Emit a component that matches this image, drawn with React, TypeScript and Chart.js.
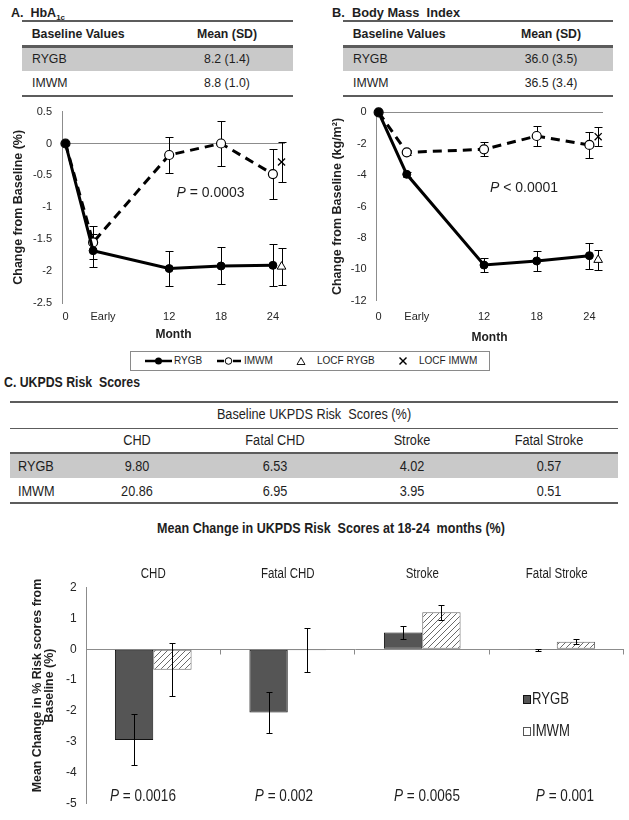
import React, { useEffect, useRef } from 'react';
import { Chart, registerables } from 'chart.js';
Chart.register(...registerables);

const SANS = "'Liberation Sans', Arial, sans-serif";
const NARROW_SX = 0.82; // Arial-Narrow look, simulated by horizontal compression
const INK = '#1e1e1e';
const TICK = '#262626';
const LINE_GRAY = '#5c5c5c';
const ROW_GRAY = '#c9c9c9';

// ---------------- Data ----------------
const groups = ['RYGB', 'IMWM'];
const hbaBaseline = ['8.2 (1.4)', '8.8 (1.0)'];
const bmiBaseline = ['36.0 (3.5)', '36.5 (3.4)'];

const monthValues = [0, 3.2, 12, 18, 24];
const monthTickValues = [0, 4.35, 12, 18, 24];
const monthTickLabels = ['0', 'Early', '12', '18', '24'];
const locfMonth = 25;

const hbaRygb = [0, -1.68, -1.96, -1.92, -1.91];
const hbaRygbErr = [0, 0.26, 0.27, 0.29, 0.33];
const hbaImwm = [0, -1.55, -0.18, 0.0, -0.48];
const hbaImwmErr = [0, 0.26, 0.28, 0.35, 0.39];
const hbaLocfRygb = [-1.93];
const hbaLocfRygbErr = [0.29];
const hbaLocfImwm = [-0.29];
const hbaLocfImwmErr = [0.32];

const bmiRygb = [0, -3.95, -9.73, -9.47, -9.13];
const bmiRygbErr = [0, 0.15, 0.45, 0.65, 0.82];
const bmiImwm = [0, -2.55, -2.36, -1.51, -2.08];
const bmiImwmErr = [0, 0.15, 0.45, 0.65, 0.85];
const bmiLocfRygb = [-9.4];
const bmiLocfRygbErr = [0.66];
const bmiLocfImwm = [-1.55];
const bmiLocfImwmErr = [0.6];

const riskCats = ['CHD', 'Fatal CHD', 'Stroke', 'Fatal Stroke'];
const riskBaselineRygb = ['9.80', '6.53', '4.02', '0.57'];
const riskBaselineImwm = ['20.86', '6.95', '3.95', '0.51'];
const riskRygb = [-2.94, -2.05, 0.55, -0.02];
const riskRygbErr = [0.83, 0.67, 0.22, 0.04];
const riskImwm = [-0.66, -0.03, 1.2, 0.25];
const riskImwmErr = [0.87, 0.71, 0.24, 0.07];
const riskPValues = ['0.0016', '0.002', '0.0065', '0.001'];

// ---------------- Plugins ----------------
function drawErrorBars(chart: any, cap: number) {
  const ctx = chart.ctx;
  chart.data.datasets.forEach((ds: any, di: number) => {
    const errs = ds.errors;
    if (!errs) return;
    const meta = chart.getDatasetMeta(di);
    const yScale = chart.scales[meta.yAxisID];
    meta.data.forEach((el: any, i: number) => {
      const e = errs[i];
      if (!e) return;
      const raw = ds.data[i];
      const v = typeof raw === 'number' ? raw : raw.y;
      const x = Math.round(el.x) + 0.5;
      const y1 = Math.round(yScale.getPixelForValue(v + e)) + 0.5;
      const y2 = Math.round(yScale.getPixelForValue(v - e)) + 0.5;
      ctx.save();
      ctx.strokeStyle = '#000';
      ctx.lineWidth = 1;
      ctx.beginPath();
      ctx.moveTo(x, y1); ctx.lineTo(x, y2);
      ctx.moveTo(x - cap, y1); ctx.lineTo(x + cap, y1);
      ctx.moveTo(x - cap, y2); ctx.lineTo(x + cap, y2);
      ctx.stroke();
      ctx.restore();
    });
  });
}

const errorBarsBefore = {
  id: 'errorBarsBefore',
  beforeDatasetsDraw(chart: any) { drawErrorBars(chart, 4); },
};
const errorBarsAfter = {
  id: 'errorBarsAfter',
  afterDatasetsDraw(chart: any) { drawErrorBars(chart, 3); },
};

const barDecor = {
  id: 'barDecor',
  afterDraw(chart: any) {
    const { ctx, chartArea } = chart;
    const xs = chart.scales.x;
    const ys = chart.scales.y;
    const y0 = Math.round(ys.getPixelForValue(0)) + 0.5;
    const n = riskCats.length;
    const w = (chartArea.right - chartArea.left) / n;
    ctx.save();
    ctx.strokeStyle = '#8a8a8a';
    ctx.lineWidth = 1;
    ctx.beginPath();
    for (let i = 1; i <= n; i++) {
      const px = Math.round(chartArea.left + i * w) - 0.5;
      ctx.moveTo(px, y0);
      ctx.lineTo(px, y0 + 5);
    }
    ctx.stroke();
    ctx.fillStyle = INK;
    ctx.textAlign = 'center';
    ctx.textBaseline = 'middle';
    ctx.font = `14px ${SANS}`;
    riskCats.forEach((c, i) => {
      ctx.save();
      ctx.translate(xs.getPixelForValue(i), chartArea.top - 13.4);
      ctx.scale(NARROW_SX, 1);
      ctx.fillText(c, 0, 0);
      ctx.restore();
    });
    // rotated y title
    ctx.translate(38, (chartArea.top + chartArea.bottom) / 2 - 10);
    ctx.rotate(-Math.PI / 2);
    ctx.font = `bold 12.4px ${SANS}`;
    ctx.fillText('Mean Change in % Risk scores from', 0, 0);
    ctx.fillText('Baseline (%)', 0, 12);
    ctx.restore();
  },
};

const fmtTick = (v: number) => String(Number(Number(v).toFixed(2)));

// ---------------- Configs ----------------
function lineConfig(p: any) {
  const pts = (vals: number[]) => monthValues.map((m, i) => ({ x: m, y: vals[i] }));
  const locf = (vals: number[]) => vals.map((v) => ({ x: locfMonth, y: v }));
  return {
    type: 'line',
    data: {
      datasets: [
        { label: 'RYGB', data: pts(p.rygb), errors: p.rygbErr, borderColor: '#000', borderWidth: 3,
          pointRadius: 4, pointBackgroundColor: '#000', pointBorderColor: '#000', pointBorderWidth: 1, clip: false, tension: 0 },
        { label: 'IMWM', data: pts(p.imwm), errors: p.imwmErr, borderColor: '#000', borderWidth: 3, borderDash: [9, 6],
          pointRadius: 4.5, pointBackgroundColor: '#fff', pointBorderColor: '#000', pointBorderWidth: 1.2, clip: false, tension: 0 },
        { label: 'LOCF RYGB', data: locf(p.locfRygb), errors: p.locfRygbErr, showLine: false, pointStyle: 'triangle',
          pointRadius: 5, pointBackgroundColor: '#fff', pointBorderColor: '#000', pointBorderWidth: 1, clip: false },
        { label: 'LOCF IMWM', data: locf(p.locfImwm), errors: p.locfImwmErr, showLine: false, pointStyle: 'crossRot',
          pointRadius: 5, pointBackgroundColor: '#000', pointBorderColor: '#000', pointBorderWidth: 1.3, clip: false },
      ],
    },
    options: {
      animation: false,
      responsive: false,
      maintainAspectRatio: false,
      layout: { padding: { top: p.padTop, right: p.padRight, bottom: 0, left: 0 } },
      plugins: { legend: { display: false }, tooltip: { enabled: false } },
      scales: {
        x: {
          type: 'linear', min: p.xMin, max: p.xMax,
          grid: { display: false, drawTicks: false },
          border: { display: false },
          afterBuildTicks: (s: any) => { s.ticks = monthTickValues.map((v) => ({ value: v })); },
          ticks: {
            autoSkip: false, maxRotation: 0, padding: p.xTickPad,
            font: { family: SANS, size: 11 }, color: TICK,
            callback: (v: number) => monthTickLabels[monthTickValues.indexOf(v)],
          },
          title: { display: true, text: 'Month', color: INK, font: { family: SANS, size: 12, weight: 'bold' },
            padding: { top: 0, bottom: p.xTitlePad } },
          afterFit: (s: any) => { s.height = p.xHeight; },
        },
        y: {
          min: p.yMin, max: p.yMax,
          ticks: { stepSize: p.yStep, padding: p.yTickPad, font: { family: SANS, size: 11 }, color: TICK, callback: fmtTick },
          grid: { drawTicks: false, color: (c: any) => (c.tick && c.tick.value === 0 ? '#8c8c8c' : 'rgba(0,0,0,0)'), lineWidth: 1 },
          border: { color: '#8c8c8c', width: 1 },
          title: { display: true, text: p.yTitle, color: INK, font: { family: SANS, size: 12.5, weight: 'bold' },
            padding: { top: p.yTitlePad, bottom: 0 } },
          afterFit: (s: any) => { s.width = p.yWidth; },
        },
      },
    },
    plugins: [errorBarsBefore],
  };
}

function makeHatch() {
  const c = document.createElement('canvas');
  c.width = 6; c.height = 6;
  const g = c.getContext('2d')!;
  g.fillStyle = '#fff';
  g.fillRect(0, 0, 6, 6);
  g.strokeStyle = '#6a6a6a';
  g.lineWidth = 1;
  g.beginPath();
  g.moveTo(0, 6); g.lineTo(6, 0);
  g.moveTo(-1, 1); g.lineTo(1, -1);
  g.moveTo(5, 7); g.lineTo(7, 5);
  g.stroke();
  return g.createPattern(c, 'repeat');
}

function barConfig() {
  const hatch = makeHatch();
  return {
    type: 'bar',
    data: {
      labels: riskCats,
      datasets: [
        { label: 'RYGB', data: riskRygb, errors: riskRygbErr, backgroundColor: '#555555', borderColor: '#111',
          borderWidth: 1, borderSkipped: false, categoryPercentage: 0.57, barPercentage: 1 },
        { label: 'IMWM', data: riskImwm, errors: riskImwmErr, backgroundColor: hatch, borderColor: '#666',
          borderWidth: 1, borderSkipped: false, categoryPercentage: 0.57, barPercentage: 1 },
      ],
    },
    options: {
      animation: false,
      responsive: false,
      maintainAspectRatio: false,
      layout: { padding: { top: 27.7, right: 5, bottom: 10.7, left: 0 } },
      plugins: { legend: { display: false }, tooltip: { enabled: false } },
      scales: {
        x: { display: false },
        y: {
          min: -5, max: 2,
          ticks: { stepSize: 1, padding: 9.4, font: { family: SANS, size: 12 }, color: TICK, callback: fmtTick },
          grid: { drawTicks: false, color: (c: any) => (c.tick && c.tick.value === 0 ? '#8c8c8c' : 'rgba(0,0,0,0)') },
          border: { color: '#8c8c8c', width: 1 },
          afterFit: (s: any) => { s.width = 86; },
        },
      },
    },
    plugins: [errorBarsAfter, barDecor],
  };
}

// ---------------- Components ----------------
function ChartCanvas({ left, top, width, height, build }: any) {
  const ref = useRef<HTMLCanvasElement>(null);
  useEffect(() => {
    const chart = new Chart(ref.current as any, build() as any);
    return () => chart.destroy();
  }, []);
  return (
    <canvas ref={ref} width={width} height={height}
      style={{ position: 'absolute', left, top, width, height, display: 'block' }} />
  );
}

function Txt({ x, y, align = 'center', size = 12, bold = false, sx = 1, children, style }: any) {
  const tx = align === 'center' ? '-50%' : align === 'right' ? '-100%' : '0';
  const origin = align === 'center' ? 'center center' : align === 'right' ? 'right center' : 'left center';
  return (
    <div style={{ position: 'absolute', left: x, top: y, transform: `translate(${tx}, -50%) scaleX(${sx})`,
      transformOrigin: origin, fontFamily: SANS,
      fontSize: size, fontWeight: bold ? 700 : 400, lineHeight: 1, whiteSpace: 'nowrap', color: INK, ...style }}>
      {children}
    </div>
  );
}

function Rule({ x, y, w, h = 2, color = LINE_GRAY }: any) {
  return <div style={{ position: 'absolute', left: x, top: y, width: w, height: h, background: color }} />;
}

function BaselineTable({ x, w, valueCx, values }: any) {
  return (
    <>
      <Rule x={x} y={20} w={w} h={2} />
      <Txt x={x + 9.7} y={34} align="left" size={12.3} bold>Baseline Values</Txt>
      <Txt x={valueCx} y={34} size={12.3} bold>Mean (SD)</Txt>
      <Rule x={x} y={45} w={w} h={2.5} />
      <div style={{ position: 'absolute', left: x, top: 47.5, width: w, height: 23, background: ROW_GRAY }} />
      {groups.map((g, i) => (
        <React.Fragment key={g}>
          <Txt x={x + 10} y={58.8 + i * 24.5} align="left" size={12.3}>{g}</Txt>
          <Txt x={valueCx} y={58.8 + i * 24.5} size={12.3}>{values[i]}</Txt>
        </React.Fragment>
      ))}
      <Rule x={x} y={95} w={w} h={2} />
    </>
  );
}

function LegendAB() {
  return (
    <>
      <div style={{ position: 'absolute', left: 130, top: 351, width: 358, height: 18, border: '1px solid #8a8a8a' }} />
      <svg style={{ position: 'absolute', left: 145, top: 355 }} width="27" height="12">
        <line x1="0" y1="6" x2="27" y2="6" stroke="#000" strokeWidth="2.5" />
        <circle cx="13.5" cy="6" r="3.5" fill="#000" />
      </svg>
      <Txt x={174} y={361} align="left" size={10}>RYGB</Txt>
      <svg style={{ position: 'absolute', left: 217, top: 355 }} width="24" height="12">
        <line x1="0" y1="6" x2="7" y2="6" stroke="#000" strokeWidth="2.5" />
        <line x1="16" y1="6" x2="24" y2="6" stroke="#000" strokeWidth="2.5" />
        <circle cx="11.5" cy="6" r="3.3" fill="#fff" stroke="#000" strokeWidth="1" />
      </svg>
      <Txt x={244} y={361} align="left" size={10}>IMWM</Txt>
      <svg style={{ position: 'absolute', left: 296, top: 356 }} width="10" height="10">
        <polygon points="5,1.5 9,8.5 1,8.5" fill="#fff" stroke="#000" strokeWidth="0.9" />
      </svg>
      <Txt x={317} y={361} align="left" size={10}>LOCF RYGB</Txt>
      <svg style={{ position: 'absolute', left: 398, top: 356 }} width="10" height="10">
        <line x1="1.5" y1="1.5" x2="8.5" y2="8.5" stroke="#000" strokeWidth="1.4" />
        <line x1="8.5" y1="1.5" x2="1.5" y2="8.5" stroke="#000" strokeWidth="1.4" />
      </svg>
      <Txt x={419} y={361} align="left" size={10}>LOCF IMWM</Txt>
    </>
  );
}

function PText({ x, y, op, value, size, sx = 1 }: any) {
  return (
    <Txt x={x} y={y} size={size} sx={sx}>
      <i>P</i>{` ${op} ${value}`}
    </Txt>
  );
}

export default function App() {
  const colCenters = [137, 275.4, 412, 549];
  const pCenters = [143, 284, 426.6, 564.5];
  const N = NARROW_SX;
  return (
    <div style={{ position: 'absolute', left: 0, top: 0, width: 629, height: 820, background: '#fff', overflow: 'hidden',
      fontFamily: SANS, color: INK }}>
      {/* Panel A header */}
      <Txt x={11} y={13} align="left" size={12.5} bold>
        A.&nbsp; HbA<sub style={{ fontSize: 8, verticalAlign: 'sub', lineHeight: 0 }}>1c</sub>
      </Txt>
      <BaselineTable x={22} w={271} valueCx={227} values={hbaBaseline} />

      {/* Panel B header */}
      <Txt x={332} y={13} align="left" size={12.8} bold>B.&nbsp; Body Mass&nbsp; Index</Txt>
      <BaselineTable x={343} w={270} valueCx={551} values={bmiBaseline} />

      <ChartCanvas left={0} top={95} width={300} height={250}
        build={() => lineConfig({
          rygb: hbaRygb, rygbErr: hbaRygbErr, imwm: hbaImwm, imwmErr: hbaImwmErr,
          locfRygb: hbaLocfRygb, locfRygbErr: hbaLocfRygbErr, locfImwm: hbaLocfImwm, locfImwmErr: hbaLocfImwmErr,
          yMin: -2.5, yMax: 0.5, yStep: 0.5, xMin: -0.4, xMax: 25.4,
          yTitle: 'Change from Baseline (%)', padTop: 16, padRight: 15,
          xHeight: 42, xTickPad: 7.4, xTitlePad: 2.8, yWidth: 62, yTickPad: 10, yTitlePad: 11.5,
        })} />
      <PText x={210.5} y={191.7} op="=" value="0.0003" size={14} />

      <ChartCanvas left={320} top={95} width={300} height={250}
        build={() => lineConfig({
          rygb: bmiRygb, rygbErr: bmiRygbErr, imwm: bmiImwm, imwmErr: bmiImwmErr,
          locfRygb: bmiLocfRygb, locfRygbErr: bmiLocfRygbErr, locfImwm: bmiLocfImwm, locfImwmErr: bmiLocfImwmErr,
          yMin: -12, yMax: 0, yStep: 2, xMin: -0.3, xMax: 25.55,
          yTitle: 'Change from Baseline (kg/m\u00B2)', padTop: 17.3, padRight: 17,
          xHeight: 44.3, xTickPad: 9.7, xTitlePad: 0.5, yWidth: 56, yTickPad: 9.3, yTitlePad: 10,
        })} />
      <PText x={524} y={186.7} op="<" value="0.0001" size={14} />

      <LegendAB />

      {/* Panel C */}
      <Txt x={4} y={380.7} align="left" size={15} bold sx={N}>C. UKPDS Risk&nbsp; Scores</Txt>
      <Rule x={10} y={401} w={608} h={2} />
      <Txt x={313.7} y={414} size={15.5} sx={N}>Baseline UKPDS Risk&nbsp; Scores (%)</Txt>
      <Rule x={10} y={427.5} w={608} h={1.5} />
      {riskCats.map((c, i) => (
        <Txt key={c} x={colCenters[i]} y={440} size={15.5} sx={N}>{c}</Txt>
      ))}
      <Rule x={10} y={451.5} w={608} h={2.5} />
      <div style={{ position: 'absolute', left: 10, top: 454, width: 608, height: 23.5, background: ROW_GRAY }} />
      <Txt x={18} y={465.7} align="left" size={15.5} sx={N}>{groups[0]}</Txt>
      {riskBaselineRygb.map((v, i) => (
        <Txt key={'r' + i} x={colCenters[i]} y={465.7} size={15.5} sx={N}>{v}</Txt>
      ))}
      <Txt x={18} y={491} align="left" size={15.5} sx={N}>{groups[1]}</Txt>
      {riskBaselineImwm.map((v, i) => (
        <Txt key={'i' + i} x={colCenters[i]} y={491} size={15.5} sx={N}>{v}</Txt>
      ))}
      <Rule x={10} y={502} w={608} h={2} />

      <Txt x={330.6} y={527.7} size={15.3} bold sx={N}>
        Mean Change in UKPDS Risk&nbsp; Scores at 18-24&nbsp; months (%)
      </Txt>

      <ChartCanvas left={0} top={560} width={629} height={260} build={barConfig} />

      {/* bar legend */}
      <div style={{ position: 'absolute', left: 523, top: 695, width: 6, height: 7, background: '#555', border: '1px solid #111' }} />
      <Txt x={532} y={699} align="left" size={16} sx={N}>{groups[0]}</Txt>
      <div style={{ position: 'absolute', left: 523, top: 727, width: 6, height: 7, background: '#fff', border: '1px solid #555' }} />
      <Txt x={532} y={730.7} align="left" size={16} sx={N}>{groups[1]}</Txt>

      {riskPValues.map((v, i) => (
        <PText key={v + i} x={pCenters[i]} y={795} op="=" value={v} size={16.5} sx={N} />
      ))}
    </div>
  );
}
